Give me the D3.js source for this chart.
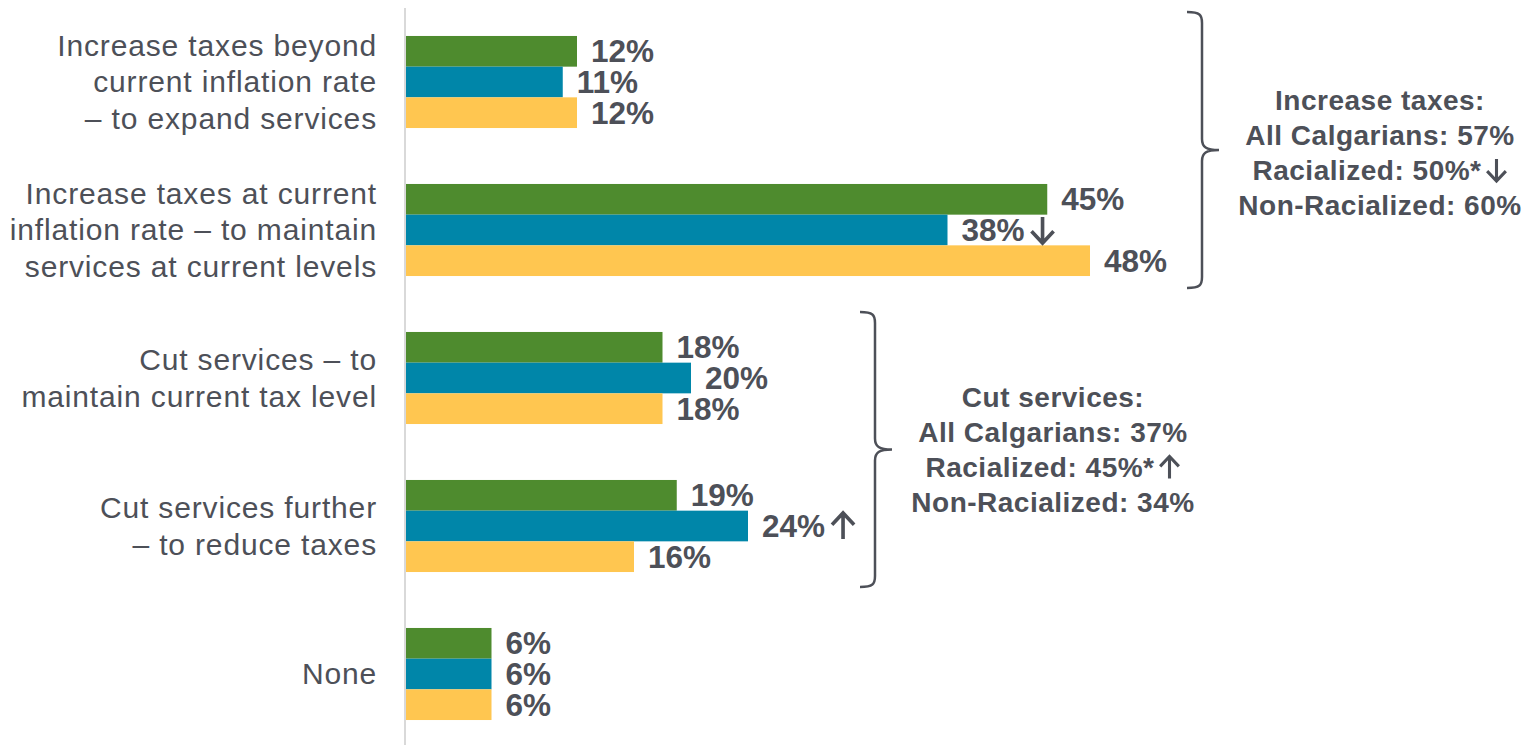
<!DOCTYPE html>
<html>
<head>
<meta charset="utf-8">
<script src="https://cdn.jsdelivr.net/npm/d3@7"></script>
<style>
  body { margin: 0; background: #ffffff; }
  svg { display: block; }
  text { font-family: "Liberation Sans", Arial, Helvetica, sans-serif; }
</style>
</head>
<body>
<svg id="chart" width="1529" height="745"></svg>
<script>
// Survey options, each split into the lines shown on the left
const categories = [
  ["Increase taxes beyond", "current inflation rate", "\u2013 to expand services"],
  ["Increase taxes at current", "inflation rate \u2013 to maintain", "services at current levels"],
  ["Cut services \u2013 to", "maintain current tax level"],
  ["Cut services further", "\u2013 to reduce taxes"],
  ["None"]
];

// Share of respondents (%) per group
const seriesNames = ["All Calgarians", "Racialized", "Non-Racialized"];
const allCalgarians = [12, 45, 18, 19, 6];
const racialized    = [11, 38, 20, 24, 6];
const nonRacialized = [12, 48, 18, 16, 6];
// significance markers after the racialized labels: "down" / "up" / none
const racializedMarks = ["", "down", "", "up", ""];

// Net summaries shown beside the braces: [text, trailing marker]
const increaseTaxesNote = [["Increase taxes:", ""], ["All Calgarians: 57%", ""], ["Racialized: 50%*", "down"], ["Non-Racialized: 60%", ""]];
const cutServicesNote   = [["Cut services:", ""], ["All Calgarians: 37%", ""], ["Racialized: 45%*", "up"], ["Non-Racialized: 34%", ""]];

const colors = ["#4e8b2e", "#0086a9", "#ffc650"];
const textColor = "#4d5058";

const svg = d3.select("#chart");

const x = d3.scaleLinear().domain([0, 50]).range([406, 1118.5]);
const y = d3.scaleBand()
  .domain(d3.range(categories.length))
  .range([8, 748])
  .paddingInner(0.378)
  .paddingOuter(0.189);
const ySub = d3.scaleBand()
  .domain(d3.range(seriesNames.length))
  .range([0, y.bandwidth()]);

const rows = categories.map((lines, i) => ({
  i, lines,
  values: [allCalgarians[i], racialized[i], nonRacialized[i]],
  marks: ["", racializedMarks[i], ""]
}));

// open-headed arrow drawn as a stroked path
function drawArrow(parent, cx, cy, size, dir) {
  const h = size / 2, s = dir === "up" ? -1 : 1;
  const p = d3.path();
  p.moveTo(cx, cy - s * h);
  p.lineTo(cx, cy + s * h);
  p.moveTo(cx - h * 0.85, cy + s * (h - size * 0.45));
  p.lineTo(cx, cy + s * h);
  p.lineTo(cx + h * 0.85, cy + s * (h - size * 0.45));
  parent.append("path")
    .attr("d", p.toString())
    .attr("fill", "none")
    .attr("stroke", textColor)
    .attr("stroke-width", size * 0.14)
    .attr("stroke-linecap", "butt")
    .attr("stroke-linejoin", "miter");
}

// vertical axis line
svg.append("line")
  .attr("x1", x(0) - 1).attr("x2", x(0) - 1)
  .attr("y1", 8).attr("y2", 745)
  .attr("stroke", "#d9d9d9").attr("stroke-width", 2);

const groups = svg.selectAll("g.row").data(rows).join("g")
  .attr("class", "row")
  .attr("transform", d => `translate(0,${y(d.i)})`);

groups.selectAll("rect").data(d => d.values).join("rect")
  .attr("x", x(0))
  .attr("y", (v, j) => ySub(j))
  .attr("width", v => x(v) - x(0))
  .attr("height", ySub.bandwidth())
  .attr("fill", (v, j) => colors[j]);

groups.each(function (d) {
  const g = d3.select(this);
  d.values.forEach((v, j) => {
    const cy = ySub(j) + ySub.bandwidth() / 2;
    const t = g.append("text")
      .attr("class", "val")
      .attr("x", x(v) + 14)
      .attr("y", cy)
      .attr("dy", "0.35em")
      .attr("font-size", 31.5)
      .attr("font-weight", "bold")
      .attr("fill", textColor)
      .text(v + "%");
    if (d.marks[j]) {
      const end = x(v) + 14 + t.node().getComputedTextLength();
      drawArrow(g, end + 18, cy, 26, d.marks[j]);
    }
  });
});

// category labels
const lineGap = 37;
groups.each(function (d) {
  const g = d3.select(this);
  const n = d.lines.length;
  const cy = y.bandwidth() / 2;
  g.selectAll("text.cat").data(d.lines).join("text")
    .attr("class", "cat")
    .attr("x", 377)
    .attr("y", (t, k) => cy + (k - (n - 1) / 2) * lineGap)
    .attr("dy", "0.35em")
    .attr("text-anchor", "end")
    .attr("font-size", 30)
    .attr("letter-spacing", 0.85)
    .attr("fill", textColor)
    .text(t => t);
});

// curly brace opening to the left, tip pointing right
function bracePath(x0, top, bottom) {
  const x1 = x0 + 15, x2 = x0 + 32, r = 11;
  const mid = (top + bottom) / 2;
  const p = d3.path();
  p.moveTo(x0, top);
  p.bezierCurveTo(x1 - 2, top, x1, top + 3, x1, top + r);
  p.lineTo(x1, mid - r);
  p.bezierCurveTo(x1, mid - 3, x1 + 4, mid, x2, mid);
  p.bezierCurveTo(x1 + 4, mid, x1, mid + 3, x1, mid + r);
  p.lineTo(x1, bottom - r);
  p.bezierCurveTo(x1, bottom - 3, x1 - 2, bottom, x0, bottom);
  return p.toString();
}

const notes = [
  { lines: increaseTaxesNote, first: 0, last: 1, bx: 1187, tx: 1380, padTop: 24, padBottom: 12, shift: 2.5 },
  { lines: cutServicesNote,   first: 2, last: 3, bx: 860,  tx: 1053, padTop: 20, padBottom: 15, shift: 0.5 }
];

const arrowSize = 22, arrowGap = 4;
notes.forEach(n => {
  const top = y(n.first) - n.padTop;
  const bottom = y(n.last) + y.bandwidth() + n.padBottom;
  const mid = (top + bottom) / 2;
  svg.append("path")
    .attr("d", bracePath(n.bx, top, bottom))
    .attr("fill", "none")
    .attr("stroke", "#4d5058")
    .attr("stroke-width", 2.5);
  n.lines.forEach((d, k) => {
    const cy = mid + n.shift + (k - (n.lines.length - 1) / 2) * 35;
    const t = svg.append("text")
      .attr("y", cy)
      .attr("dy", "0.35em")
      .attr("font-size", 28)
      .attr("letter-spacing", 0.5)
      .attr("font-weight", "bold")
      .attr("fill", textColor)
      .text(d[0]);
    const len = t.node().getComputedTextLength();
    const total = len + (d[1] ? arrowGap + arrowSize : 0);
    const x0 = n.tx - total / 2;
    t.attr("x", x0);
    if (d[1]) drawArrow(svg, x0 + len + arrowGap + arrowSize / 2, cy, arrowSize, d[1]);
  });
});
</script>
</body>
</html>
